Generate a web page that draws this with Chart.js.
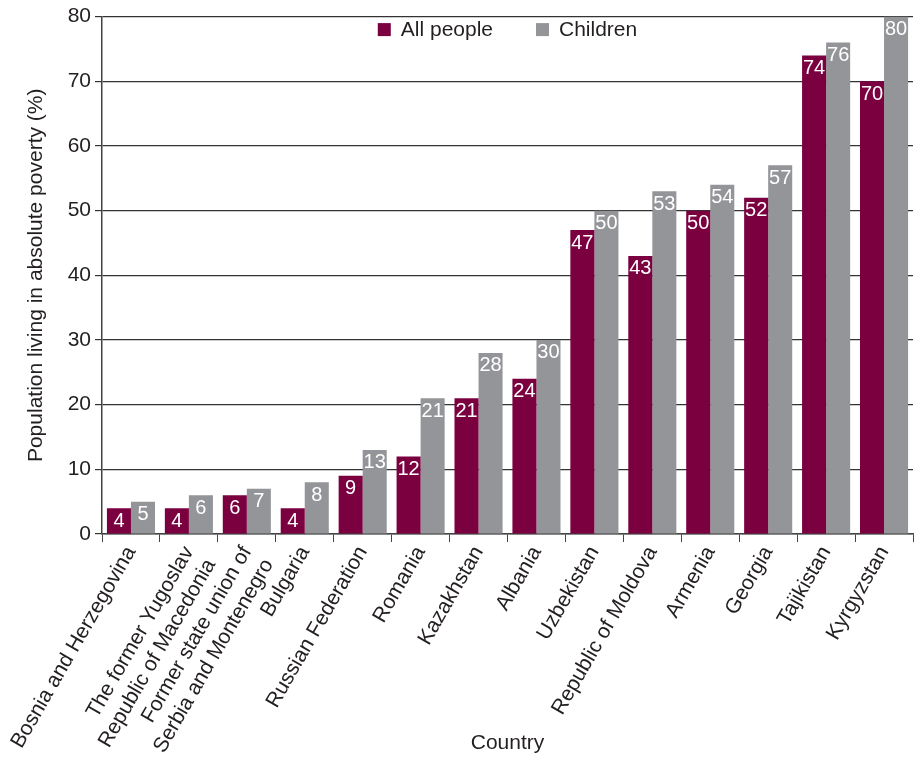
<!DOCTYPE html>
<html>
<head>
<meta charset="utf-8">
<script src="https://cdn.jsdelivr.net/npm/chart.js@4.4.1/dist/chart.umd.min.js"></script>
<style>
  body { margin: 0; background: #fff; }
  #wrap { width: 916px; height: 758px; }
</style>
</head>
<body>
<div id="wrap"><canvas id="poverty_chart" width="916" height="758"></canvas></div>
<script>
// data
const countries = [
    ['Bosnia and Herzegovina'],
    ['The former Yugoslav', 'Republic of Macedonia'],
    ['Former state union of', 'Serbia and Montenegro'],
    ['Bulgaria'],
    ['Russian Federation'],
    ['Romania'],
    ['Kazakhstan'],
    ['Albania'],
    ['Uzbekistan'],
    ['Republic of Moldova'],
    ['Armenia'],
    ['Georgia'],
    ['Tajikistan'],
    ['Kyrgyzstan']
];
const all_people = [4, 4, 6, 4, 9, 12, 21, 24, 47, 43, 50, 52, 74, 70];
const children = [5, 6, 7, 8, 13, 21, 28, 30, 50, 53, 54, 57, 76, 80];
const y_ticks = [0, 10, 20, 30, 40, 50, 60, 70, 80];

const maroon = '#7b0040';
const grey = '#949599';
const textColor = '#231f20';
const fontFamily = '"Liberation Sans", Arial, sans-serif';

// white value labels inside the top of each bar
const barLabels = {
    id: 'barLabels',
    afterDatasetsDraw(chart) {
        const ctx = chart.ctx;
        ctx.save();
        ctx.fillStyle = '#fff';
        ctx.font = '20px ' + fontFamily;
        ctx.textAlign = 'center';
        ctx.textBaseline = 'top';
        chart.data.datasets.forEach((ds, i) => {
            chart.getDatasetMeta(i).data.forEach((bar, j) => {
                ctx.fillText(ds.data[j], bar.x, bar.y + 3);
            });
        });
        ctx.restore();
    }
};

// legend drawn inside the plot, under the top line
const innerLegend = {
    id: 'innerLegend',
    afterDraw(chart) {
        const ctx = chart.ctx;
        const area = chart.chartArea;
        ctx.save();
        ctx.font = '21px ' + fontFamily;
        ctx.textBaseline = 'middle';
        const box = 13, gap = 10, space = 43;
        const items = chart.data.datasets.map(ds => ({
            text: ds.label, color: ds.backgroundColor, w: ctx.measureText(ds.label).width
        }));
        let total = 0;
        items.forEach((it, k) => { total += box + gap + it.w + (k ? space : 0); });
        let x = (area.left + area.right) / 2 - total / 2;
        const y = area.top + 13;
        items.forEach(it => {
            ctx.fillStyle = it.color;
            ctx.fillRect(x, y - box / 2, box, box);
            ctx.fillStyle = textColor;
            ctx.fillText(it.text, x + box + gap, y + 1);
            x += box + gap + it.w + space;
        });
        ctx.restore();
    }
};

const ctx = document.getElementById('poverty_chart').getContext('2d');
new Chart(ctx, {
    type: 'bar',
    data: {
        labels: countries,
        datasets: [{
            label: 'All people',
            data: all_people,
            backgroundColor: maroon,
            categoryPercentage: 0.83,
            barPercentage: 1
        }, {
            label: 'Children',
            data: children,
            backgroundColor: grey,
            categoryPercentage: 0.83,
            barPercentage: 1
        }]
    },
    options: {
        responsive: false,
        animation: false,
        layout: {
            padding: { left: 0, right: 3, top: 1, bottom: 2 }
        },
        plugins: {
            legend: { display: false },
            tooltip: { enabled: false }
        },
        scales: {
            x: {
                z: 1,
                grid: {
                    drawOnChartArea: false,
                    offset: true,
                    color: '#444',
                    tickLength: 8
                },
                border: { color: '#444', width: 1.5 },
                ticks: {
                    color: textColor,
                    font: { family: fontFamily, size: 21 },
                    maxRotation: 60,
                    minRotation: 60,
                    padding: 0,
                    autoSkip: false
                },
                title: {
                    display: true,
                    text: 'Country',
                    color: textColor,
                    font: { family: fontFamily, size: 21 },
                    padding: { top: 0, bottom: 0 }
                },
                afterFit(scale) { scale.height = 222; }
            },
            y: {
                z: 1,
                min: 0,
                max: 80,
                afterBuildTicks(scale) { scale.ticks = y_ticks.map(v => ({ value: v })); },
                grid: {
                    color: '#333',
                    lineWidth: 1.2,
                    tickLength: 7
                },
                border: { color: '#444', width: 1.5 },
                ticks: {
                    color: textColor,
                    font: { family: fontFamily, size: 21 },
                    padding: 4
                },
                title: {
                    display: true,
                    text: 'Population living in absolute poverty (%)',
                    color: textColor,
                    font: { family: fontFamily, size: 21 },
                    padding: { top: 24, bottom: 0 }
                },
                afterFit(scale) { scale.width = 102; }
            }
        }
    },
    plugins: [barLabels, innerLegend]
});
</script>
</body>
</html>
